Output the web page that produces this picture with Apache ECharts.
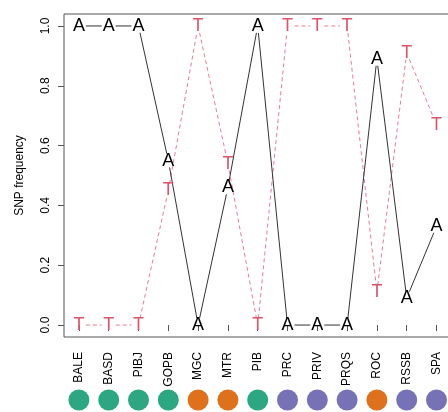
<!DOCTYPE html>
<html>
<head>
<meta charset="utf-8">
<script src="https://cdn.jsdelivr.net/npm/echarts@6/dist/echarts.min.js"></script>
<style>html,body{margin:0;padding:0;background:#fff;}#c{width:448px;height:412px;}</style>
</head>
<body>
<div id="c"></div>
<script>
const categories = ['BALE','BASD','PIBJ','GOPB','MGC','MTR','PIB','PRC','PRIV','PRQS','ROC','RSSB','SPA'];
const freqA = [1, 1, 1, 0.55, 0, 0.46, 1, 0, 0, 0, 0.89, 0.09, 0.33];
const freqT = [0, 0, 0, 0.45, 1, 0.54, 0, 1, 1, 1, 0.11, 0.91, 0.67];
const groups = ['g1','g1','g1','g1','g2','g2','g1','g3','g3','g3','g2','g3','g3'];
const yTicks = [0, 0.2, 0.4, 0.6, 0.8, 1.0];

const groupColors = {g1:'#2CA781', g2:'#DF711C', g3:'#7772B5'};
const FONT = '"Liberation Sans", Arial, Helvetica, sans-serif';

function segs(vals){
  const out = [];
  for (let i = 0; i < vals.length - 1; i++) out.push([i, vals[i], i + 1, vals[i + 1]]);
  return out;
}
function pts(vals){ return vals.map((v, i) => [i, v]); }

function segRenderer(stroke, dash, gap){
  return function(params, api){
    const p1 = api.coord([api.value(0), api.value(1)]);
    const p2 = api.coord([api.value(2), api.value(3)]);
    const dx = p2[0] - p1[0], dy = p2[1] - p1[1];
    const len = Math.sqrt(dx*dx + dy*dy);
    if (len <= 2 * gap) return null;
    const ux = dx / len, uy = dy / len;
    return {
      type: 'line',
      shape: {x1: p1[0] + ux*gap, y1: p1[1] + uy*gap, x2: p2[0] - ux*gap, y2: p2[1] - uy*gap},
      style: {stroke: stroke, lineWidth: 1, lineDash: dash}
    };
  };
}
function textRenderer(txt, color){
  return function(params, api){
    const p = api.coord([api.value(0), api.value(1)]);
    return {
      type: 'text',
      x: p[0], y: p[1],
      style: {text: txt, fill: color, fontSize: 18, fontFamily: FONT, align: 'center', verticalAlign: 'middle'}
    };
  };
}

const chart = echarts.init(document.getElementById('c'), null, {renderer: 'canvas'});
chart.setOption({
  animation: false,
  backgroundColor: '#fff',
  grid: [
    {left: 64, top: 14, width: 387.4, height: 323, show: true, borderColor: '#555', borderWidth: 1,
      backgroundColor: 'transparent', outerBoundsMode: 'none', containLabel: false},
    {left: 64, top: 390, width: 387.4, height: 20, outerBoundsMode: 'none', containLabel: false}
  ],
  xAxis: [
    {
      type: 'category', gridIndex: 0, data: categories, boundaryGap: true,
      axisLine: {show: false},
      axisTick: {show: true, length: 6, alignWithLabel: true, lineStyle: {color: '#555'}},
      axisLabel: {rotate: 90, margin: 15, fontSize: 12, color: '#000', fontFamily: FONT, interval: 0},
      splitLine: {show: false}
    },
    {type: 'category', gridIndex: 1, data: categories, boundaryGap: true, show: false}
  ],
  yAxis: [
    {
      type: 'value', gridIndex: 0, min: -0.04, max: 1.04,
      name: 'SNP frequency', nameLocation: 'middle', nameGap: 38,
      nameTextStyle: {fontSize: 12, color: '#000', fontFamily: FONT},
      axisLine: {show: false},
      axisTick: {show: true, length: 6, customValues: yTicks, lineStyle: {color: '#555'}},
      axisLabel: {rotate: 90, margin: 12, fontSize: 12, color: '#000', fontFamily: FONT, customValues: yTicks,
        formatter: v => Number(v).toFixed(1)},
      splitLine: {show: false}
    },
    {type: 'value', gridIndex: 1, min: -1, max: 1, show: false}
  ],
  series: [
    {type: 'custom', xAxisIndex: 0, yAxisIndex: 0, data: segs(freqT), encode: {x: 0, y: 1},
      renderItem: segRenderer('rgba(223,83,107,0.75)', [4, 3], 7), clip: false, z: 2},
    {type: 'custom', xAxisIndex: 0, yAxisIndex: 0, data: segs(freqA), encode: {x: 0, y: 1},
      renderItem: segRenderer('#333', null, 7), clip: false, z: 2},
    {type: 'custom', xAxisIndex: 0, yAxisIndex: 0, data: pts(freqT), encode: {x: 0, y: 1},
      renderItem: textRenderer('T', '#DF536B'), clip: false, z: 3},
    {type: 'custom', xAxisIndex: 0, yAxisIndex: 0, data: pts(freqA), encode: {x: 0, y: 1},
      renderItem: textRenderer('A', '#000'), clip: false, z: 3},
    {type: 'scatter', xAxisIndex: 1, yAxisIndex: 1, symbolSize: 21,
      data: categories.map((c, i) => ({value: [i, 0], itemStyle: {color: groupColors[groups[i]], opacity: 1}})),
      itemStyle: {opacity: 1}, silent: true}
  ]
});
</script>
</body>
</html>
